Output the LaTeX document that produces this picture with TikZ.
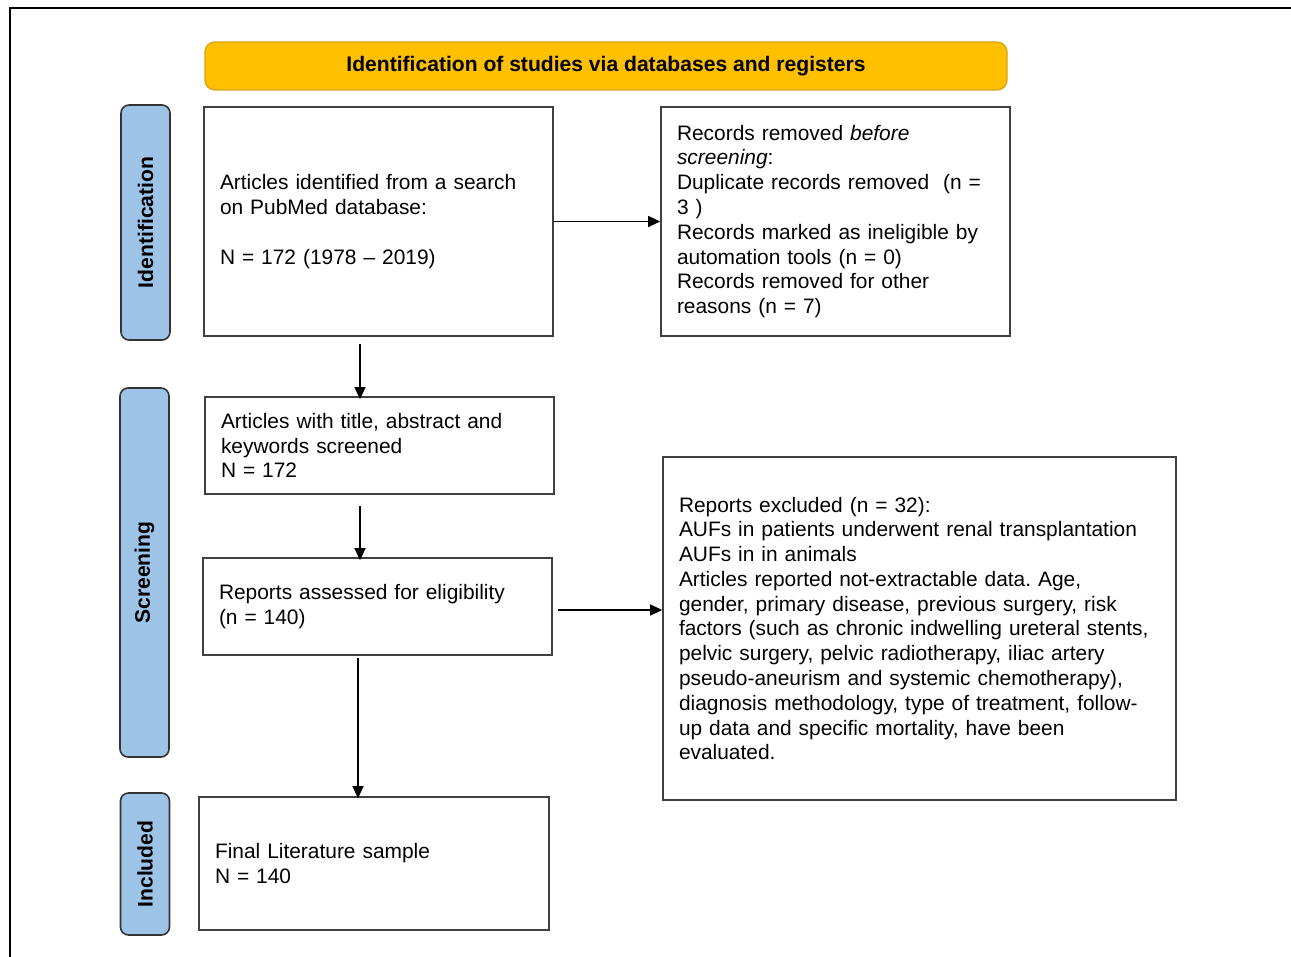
\documentclass[tikz,border=0pt]{standalone}
\usepackage{fontspec}
\setmainfont{Liberation Sans}
\usetikzlibrary{arrows.meta}
\definecolor{headgold}{HTML}{FFC000}
\definecolor{goldedge}{HTML}{D9A514}
\definecolor{phaseblue}{HTML}{9DC3E6}
\frenchspacing

\begin{document}
\begin{tikzpicture}[box/.style={draw=black!75, line width=0.9pt, align=left, inner xsep=0.32cm,
                      font=\fontsize{11.9}{14.1}\selectfont},
                    phase/.style={draw=black!80, line width=0.9pt, fill=phaseblue, rounded corners=0.16cm,
                      rotate=90, minimum height=0.98cm, font=\bfseries\fontsize{12}{14}\selectfont},
                    flow/.style={-{Triangle[length=0.24cm,width=0.22cm]}, line width=0.6pt}]
  \useasboundingbox (0,0) rectangle (25.82,-19.14);
  \draw[line width=1pt] (25.82,-0.16) -- (0.2,-0.16) -- (0.2,-19.14);

  \node[draw=goldedge, line width=0.8pt, fill=headgold, rounded corners=0.2cm,
        minimum width=16.04cm, minimum height=0.96cm, font=\bfseries\fontsize{12}{14}\selectfont]
        (head) at (12.12,-1.32) {Identification of studies via databases and registers};

  \node[phase, minimum width=4.70cm] (ident) at (2.91,-4.45) {Identification};
  \node[phase, minimum width=7.38cm] (screen) at (2.89,-11.45) {Screening};
  \node[phase, minimum width=2.84cm] (incl) at (2.90,-17.28) {Included};

  \node[box, text width=6.34cm, minimum height=4.58cm] (found) at (7.57,-4.43)
    {Articles identified from a search\\ on PubMed database:\\[\baselineskip] N = 172 (1978 -- 2019)};
  \node[box, text width=6.34cm, minimum height=4.58cm] (removed) at (16.71,-4.43)
    {Records removed \textit{before}\\ \textit{screening}:\\ Duplicate records removed\ \ (n =\\ 3 )\\
     Records marked as ineligible by\\ automation tools (n = 0)\\ Records removed for other\\ reasons (n = 7)};
  \node[box, text width=6.34cm, minimum height=1.94cm] (screened) at (7.59,-8.91)
    {Articles with title, abstract and\\ keywords screened\\ N = 172};
  \node[box, text width=6.34cm, minimum height=1.94cm] (assessed) at (7.55,-12.13)
    {Reports assessed for eligibility\\ (n = 140)};
  \node[box, text width=9.62cm, minimum height=6.86cm] (excluded) at (18.39,-12.57)
    {Reports excluded (n = 32):\\ AUFs in patients underwent renal transplantation\\ AUFs in in animals\\
     Articles reported not-extractable data. Age,\\ gender, primary disease, previous surgery, risk\\
     factors (such as chronic indwelling ureteral stents,\\ pelvic surgery, pelvic radiotherapy, iliac artery\\
     pseudo-aneurism and systemic chemotherapy),\\ diagnosis methodology, type of treatment, follow-\\
     up data and specific mortality, have been\\ evaluated.};
  \node[box, text width=6.36cm, minimum height=2.66cm] (final) at (7.48,-17.27)
    {Final Literature sample\\ N = 140};

  \coordinate (spine) at (7.2,0);
  \coordinate (spine2) at (7.16,0);
  \draw[flow] (found.east) -- (removed.west);
  \draw[flow] ([yshift=-0.14cm]found.south -| spine) -- ([yshift=-0.06cm]screened.north -| spine);
  \draw[flow] ([yshift=-0.22cm]screened.south -| spine) -- ([yshift=-0.06cm]assessed.north -| spine);
  \draw[flow] ([xshift=0.1cm,yshift=-0.07cm]assessed.east) -- ([yshift=-0.07cm]assessed.east -| excluded.west);
  \draw[flow] ([yshift=-0.04cm]assessed.south -| spine2) -- ([yshift=-0.04cm]final.north -| spine2);
\end{tikzpicture}
\end{document}
